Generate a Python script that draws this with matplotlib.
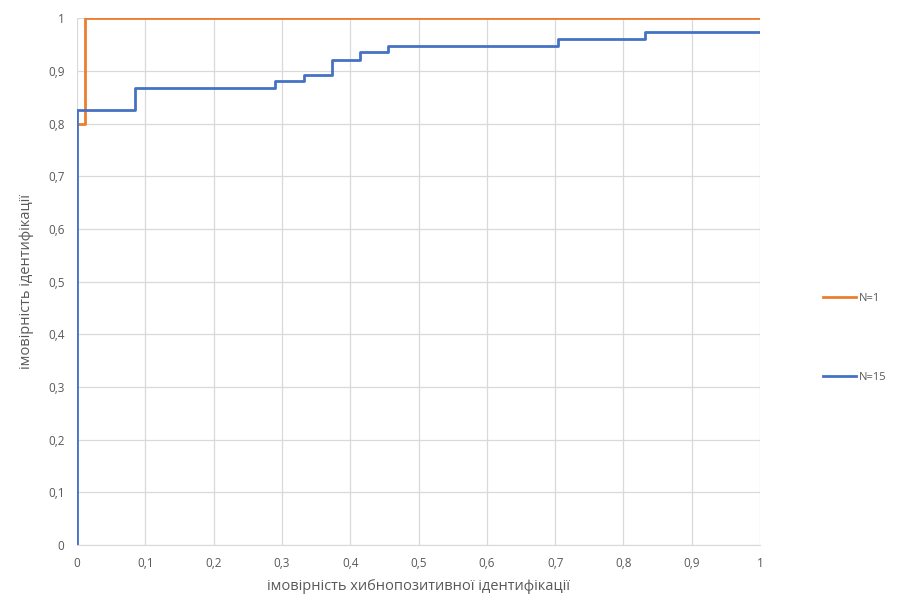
import matplotlib.pyplot as plt

plt.rcParams['font.family'] = ['Open Sans', 'DejaVu Sans']

# значення осей
ticks = [0, 0.1, 0.2, 0.3, 0.4, 0.5, 0.6, 0.7, 0.8, 0.9, 1]
tick_labels = ['0', '0,1', '0,2', '0,3', '0,4', '0,5', '0,6', '0,7', '0,8', '0,9', '1']

# N=1 (ступінчаста крива)
x_n1 = [0, 0.011, 0.011, 1]
y_n1 = [0.8, 0.8, 1.0, 1.0]

# N=15 (ступінчаста крива)
x_n15 = [0, 0, 0.085, 0.085, 0.29, 0.29, 0.332, 0.332, 0.373, 0.373,
         0.415, 0.415, 0.456, 0.456, 0.704, 0.704, 0.832, 0.832, 1]
y_n15 = [0, 0.825, 0.825, 0.867, 0.867, 0.880, 0.880, 0.893, 0.893, 0.920,
         0.920, 0.935, 0.935, 0.947, 0.947, 0.960, 0.960, 0.974, 0.974]

fig = plt.figure(figsize=(9.02, 6.05), dpi=100)
ax = fig.add_axes([0.0854, 0.0992, 0.7572, 0.8708])

ax.plot(x_n1, y_n1, color='#ED7D31', linewidth=2.0, label='N=1', zorder=3)
ax.plot(x_n15, y_n15, color='#4472C4', linewidth=2.0, label='N=15', zorder=3)

ax.set_xlim(0, 1)
ax.set_ylim(0, 1)
ax.set_xticks(ticks)
ax.set_xticklabels(tick_labels)
ax.set_yticks(ticks)
ax.set_yticklabels(tick_labels)
ax.grid(True, color='#D9D9D9', linewidth=0.9)
ax.set_axisbelow(True)
ax.tick_params(length=0, colors='#595959', labelsize=8.5, pad=9)

for s in ['top', 'right', 'left']:
    ax.spines[s].set_visible(False)
ax.spines['bottom'].set_color('#D9D9D9')

ax.set_xlabel('імовірність хибнопозитивної ідентифікації', color='#595959', fontsize=10.5, labelpad=6)
ax.set_ylabel('імовірність ідентифікації', color='#595959', fontsize=10.5, labelpad=10)

leg = ax.legend(loc='center left', bbox_to_anchor=(1.077, 0.393), frameon=False,
                fontsize=8, labelspacing=6.1, handlelength=3.0, handletextpad=0.3)
for t in leg.get_texts():
    t.set_color('#595959')

fig.savefig('out.png', dpi=100)
